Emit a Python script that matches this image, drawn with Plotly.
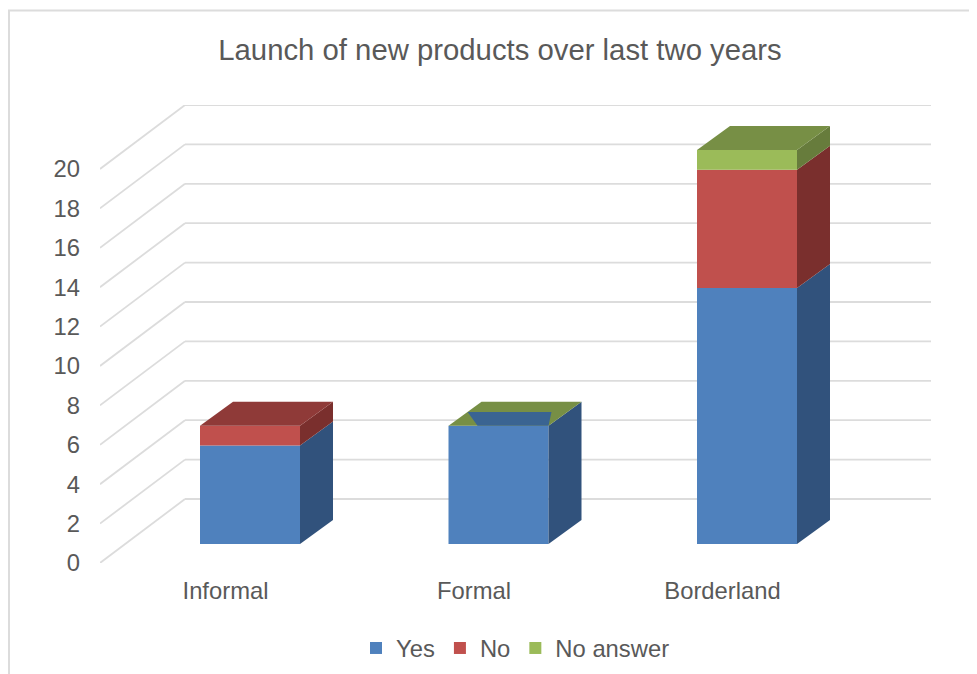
import plotly.graph_objects as go

categories = ["Informal", "Formal", "Borderland"]
yes = [5, 6, 13]
no = [1, 0, 6]
no_answer = [None, 0, 1]
y_ticks = list(range(0, 21, 2))

series = [
    ("Yes", yes, "#4f81bd", "#31527c", "#3a6492"),
    ("No", no, "#c0504d", "#7a2f2d", "#8f3a38"),
    ("No answer", no_answer, "#9bbb59", "#677c3c", "#778f45"),
]

# the page adds an 8 px body margin around the figure
PAGE = 8
W, H = 977, 674
L, R, T, B = 100 - PAGE, 931 - PAGE, 105 - PAGE, 563 - PAGE
TEXT = "#595959"
FONT = "Liberation Sans"
GRID = "#dcdcdc"
FS = 23.8

# axis scales
px_per_cat = 248.5
px_per_val = 19.7
x_at_zero = 225.5 - PAGE
x_lo = (L - x_at_zero) / px_per_cat
x_hi = (R - x_at_zero) / px_per_cat
y_hi = (B - T) / px_per_val

# 3-D look, expressed in axis units
wall_dx = 85 / px_per_cat
wall_dy = 64 / px_per_val
bar_shift = 24.5 / px_per_cat
bar_w = 100 / px_per_cat
bar_dx = 33 / px_per_cat
bar_dy = 24 / px_per_val
floor = 19 / px_per_val

fig = go.Figure()
xs = list(range(len(categories)))
cum = [floor] * len(categories)
side_faces, top_faces = [], []
tops = [None] * len(categories)

for name, vals, front, side, top in series:
    bases = list(cum)
    fig.add_trace(go.Bar(
        x=[i + bar_shift for i in xs], y=vals, base=bases, width=bar_w, name=name,
        marker=dict(color=front, line=dict(width=0)), hoverinfo="skip",
    ))
    for i, v in enumerate(vals):
        if v is None:
            continue
        xr = i + bar_shift + bar_w / 2
        if v > 0:
            side_faces.append(([xr, xr + bar_dx, xr + bar_dx, xr, xr],
                               [cum[i], cum[i] + bar_dy, cum[i] + v + bar_dy, cum[i] + v, cum[i]], side))
        cum[i] += v
        tops[i] = top

for i, col in enumerate(tops):
    xl = i + bar_shift - bar_w / 2
    xr = xl + bar_w
    t = cum[i]
    top_faces.append(([xl, xr, xr + bar_dx, xl + bar_dx, xl],
                      [t, t, t + bar_dy, t + bar_dy, t], col))
    if no[i] == 0 and no_answer[i] == 0:
        # the lower series shows through the empty top of this column
        f = 0.58
        top_faces.append(([xl + f * bar_dx, xr + 0.09 * bar_dx, xr, xl + 0.88 * bar_dx],
                          [t + f * bar_dy, t + f * bar_dy, t, t],
                          series[0][4]))

for fx_, fy_, col in side_faces + top_faces:
    fig.add_trace(go.Scatter(
        x=fx_, y=fy_, mode="lines", fill="toself", fillcolor=col,
        line=dict(width=0), showlegend=False, hoverinfo="skip",
    ))

shapes = []
for v in y_ticks:
    line = dict(color=GRID, width=1.8)
    shapes.append(dict(type="line", xref="x", yref="y", layer="below",
                       x0=x_lo, y0=v, x1=x_lo + wall_dx, y1=v + wall_dy, line=line))
    shapes.append(dict(type="line", xref="x", yref="y", layer="below",
                       x0=x_lo + wall_dx, y0=v + wall_dy, x1=x_hi, y1=v + wall_dy, line=line))

# chart frame, cut off at the right and bottom of the picture
def fx(p): return (p - L) / (R - L)
def fy(p): return (B - p) / (B - T)
shapes.append(dict(type="path", xref="paper", yref="paper", layer="below",
                   path=f"M{fx(9 - PAGE)},{fy(H)} L{fx(9 - PAGE)},{fy(10.5 - PAGE)} L{fx(W)},{fy(10.5 - PAGE)}",
                   line=dict(color=GRID, width=2)))

fig.update_layout(
    width=W, height=H,
    margin=dict(l=L, r=W - R, t=T, b=H - B, pad=0, autoexpand=False),
    paper_bgcolor="white", plot_bgcolor="rgba(0,0,0,0)",
    barmode="overlay",
    font=dict(family=FONT, size=FS, color=TEXT),
    title=dict(text="Launch of new products over last two years",
               x=(500 - PAGE) / W, xref="container", xanchor="center",
               y=1 - (50 - PAGE) / H, yref="container", yanchor="middle",
               font=dict(size=29.3, color=TEXT, family=FONT)),
    xaxis=dict(range=[x_lo, x_hi], tickvals=xs, ticktext=categories, showgrid=False,
               zeroline=False, showline=False, ticks="", ticklabelstandoff=11,
               tickfont=dict(size=FS, color=TEXT)),
    yaxis=dict(range=[0, y_hi], tickvals=y_ticks, showgrid=False, zeroline=False,
               showline=False, ticks="", ticklabelstandoff=19,
               tickfont=dict(size=FS, color=TEXT)),
    legend=dict(orientation="h", x=0.5, xanchor="center", xref="paper",
                y=-(648 - 563) / (B - T), yanchor="middle",
                font=dict(size=FS, color=TEXT), bgcolor="rgba(0,0,0,0)",
                traceorder="normal"),
    shapes=shapes,
)

fig.write_html("out.html")
